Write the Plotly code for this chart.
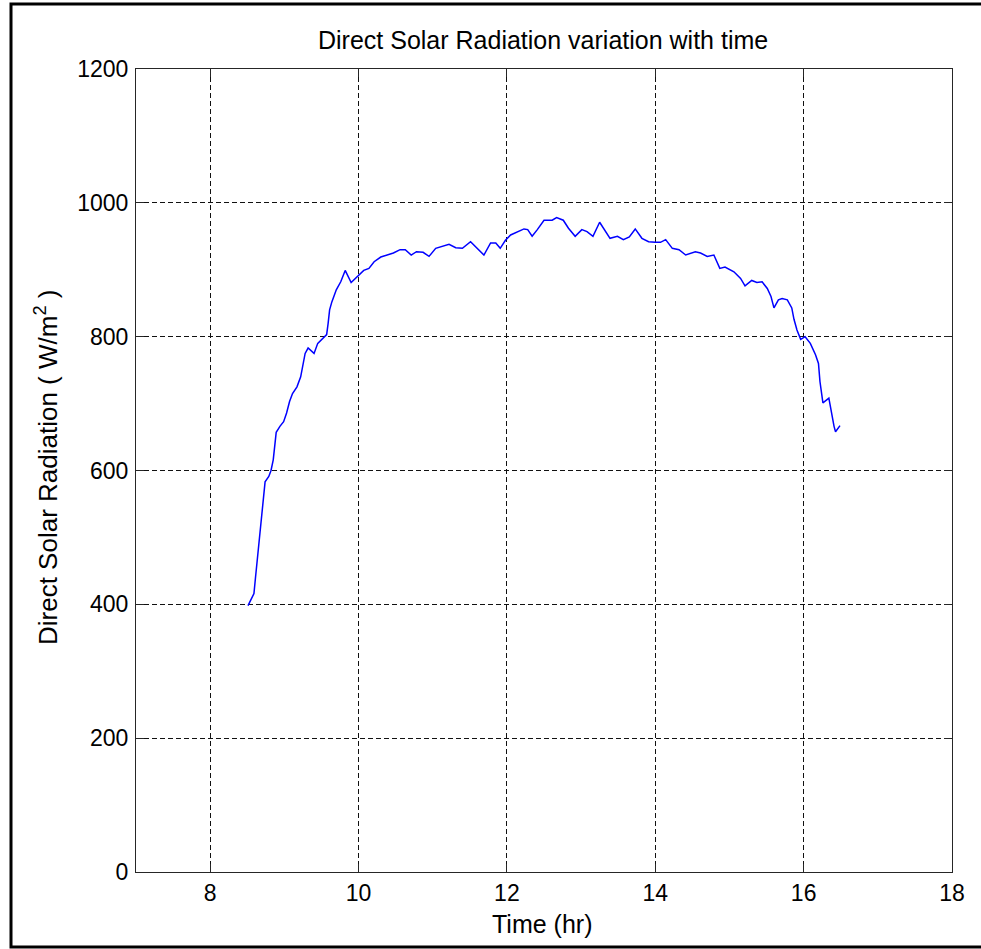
import plotly.graph_objects as go

# Time (hr) and direct solar radiation (W/m^2)
time_hr = [8.51, 8.59, 8.61, 8.63, 8.65, 8.68, 8.70, 8.72, 8.74, 8.79, 8.82, 8.85, 8.87, 8.89,
           8.94, 8.99, 9.03, 9.07, 9.11, 9.17, 9.22, 9.25, 9.28, 9.32, 9.40, 9.45, 9.53, 9.57,
           9.59, 9.61, 9.64, 9.70, 9.76, 9.82, 9.90, 9.98, 10.07, 10.14, 10.21, 10.30, 10.38,
           10.47, 10.56, 10.63, 10.71, 10.78, 10.87, 10.95, 11.04, 11.13, 11.22, 11.31, 11.40,
           11.51, 11.60, 11.69, 11.78, 11.85, 11.91, 11.98, 12.05, 12.14, 12.23, 12.28, 12.34,
           12.41, 12.50, 12.61, 12.67, 12.76, 12.83, 12.92, 13.01, 13.08, 13.16, 13.25, 13.30,
           13.39, 13.49, 13.57, 13.65, 13.73, 13.82, 13.91, 14.00, 14.07, 14.14, 14.23, 14.32,
           14.41, 14.54, 14.61, 14.70, 14.79, 14.87, 14.94, 15.06, 15.15, 15.21, 15.30, 15.37,
           15.44, 15.51, 15.56, 15.60, 15.66, 15.71, 15.78, 15.84, 15.87, 15.91, 15.96, 16.02,
           16.09, 16.16, 16.20, 16.22, 16.26, 16.34, 16.37, 16.41, 16.43, 16.49]
radiation = [398, 416, 439, 461, 486, 511, 536, 561, 583, 591, 600, 616, 636, 657,
             666, 673, 686, 703, 715, 725, 740, 755, 775, 783, 775, 790, 799, 803,
             820, 840, 852, 870, 882, 899, 881, 890, 899, 902, 912, 919, 922,
             925, 930, 930, 922, 927, 926, 920, 932, 935, 938, 933, 932,
             942, 932, 922, 940, 940, 932, 944, 952, 956, 961, 960, 950,
             960, 974, 974, 978, 974, 962, 950, 960, 957, 950, 971, 962,
             947, 950, 945, 949, 961, 947, 942, 941, 941, 945, 932, 930,
             922, 927, 925, 920, 922, 902, 904, 897, 887, 876, 884, 881,
             882, 872, 860, 843, 855, 857, 855, 843, 826, 810, 796, 800,
             790, 773, 760, 733, 701, 708, 688, 666, 658, 667]

x_ticks = [8, 10, 12, 14, 16, 18]
y_ticks = [0, 200, 400, 600, 800, 1000, 1200]

title_text = "Direct Solar Radiation variation with time"
x_title = "Time (hr)"
y_title = "Direct Solar Radiation ( W/m<sup>2</sup> )"

FONT = "Liberation Sans, Arial, sans-serif"

fig = go.Figure()
fig.add_trace(go.Scatter(x=time_hr, y=radiation, mode="lines",
                         line=dict(color="#0000ff", width=1.5), showlegend=False))

W, H = 981, 949
L, R, T, B = 136, 29, 69, 77
pw, ph = W - L - R, H - T - B

def px_to_paper_x(px):
    return (px - L) / pw

def px_to_paper_y(py):
    return (H - B - py) / ph

axis_common = dict(showline=True, linecolor="#262626", linewidth=1.2, mirror="ticks",
                   ticks="inside", ticklen=8, tickcolor="#262626", tickwidth=1.2,
                   showgrid=True, gridcolor="#111111", gridwidth=1.3, griddash="5px,3px",
                   zeroline=False, tickfont=dict(family=FONT, size=23, color="#000000"))

fig.update_xaxes(range=[7, 18], tickvals=x_ticks, **axis_common)
fig.update_yaxes(range=[0, 1200], tickvals=y_ticks, ticklabelstandoff=2, **axis_common)

xl, xr, yt, yb = px_to_paper_x(11), px_to_paper_x(1100), px_to_paper_y(4), px_to_paper_y(947)
border_path = f"M {xr},{yt} L {xl},{yt} L {xl},{yb} L {xr},{yb}"

fig.update_layout(
    width=W, height=H,
    margin=dict(l=L, r=R, t=T, b=B, autoexpand=False),
    paper_bgcolor="white", plot_bgcolor="white",
    font=dict(family=FONT, color="#000000"),
    annotations=[
        dict(text=title_text, xref="paper", yref="paper",
             x=px_to_paper_x(543), y=px_to_paper_y(40), xanchor="center", yanchor="middle",
             showarrow=False, font=dict(family=FONT, size=25)),
        dict(text=x_title, xref="paper", yref="paper",
             x=px_to_paper_x(542), y=px_to_paper_y(924), xanchor="center", yanchor="middle",
             showarrow=False, font=dict(family=FONT, size=25)),
        dict(text=y_title, xref="paper", yref="paper", textangle=-90,
             x=px_to_paper_x(46), y=px_to_paper_y(468), xanchor="center", yanchor="middle",
             showarrow=False, font=dict(family=FONT, size=26)),
    ],
    shapes=[
        dict(type="path", xref="paper", yref="paper", path=border_path,
             line=dict(color="#000000", width=3), layer="above"),
    ],
)

fig.write_html("out.html")
